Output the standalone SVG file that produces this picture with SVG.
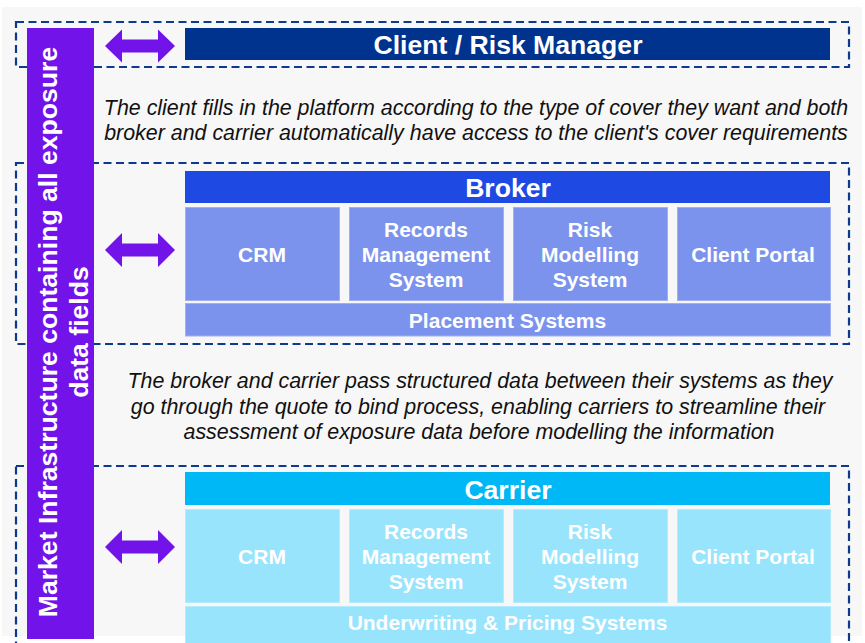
<svg xmlns="http://www.w3.org/2000/svg" width="865" height="643" viewBox="0 0 865 643">
<style>
.frame{fill:none;stroke:#0b3a8f;stroke-width:2.2;stroke-dasharray:8 4.5}
.title{font-family:"Liberation Sans",Arial,sans-serif;font-weight:bold;font-size:26.6px;fill:#fff;text-anchor:middle}
.cell{font-family:"Liberation Sans",Arial,sans-serif;font-weight:bold;font-size:21px;fill:#fff;text-anchor:middle}
.note{font-family:"Liberation Sans",Arial,sans-serif;font-style:italic;font-size:21.4px;fill:#111;text-anchor:middle}
.bcell{fill:#7b93ec;stroke:#9fb0f2;stroke-width:1}
.ccell{fill:#98e4fd;stroke:#b5ecfd;stroke-width:1}
.arrow{fill:#7213ea}
</style>
<rect x="2" y="7" width="860" height="629" fill="#f7f7f7"/>

<g id="frames">
<rect class="frame" x="16" y="22" width="833" height="45"/>
<rect class="frame" x="16" y="163" width="833" height="181"/>
<rect class="frame" x="16" y="466" width="833" height="190"/>
</g>

<g id="market-infrastructure">
<rect x="27" y="28" width="67" height="611" fill="#7213ea"/>
<text class="title" transform="translate(57,332) rotate(-90)">Market Infrastructure containing all exposure</text>
<text class="title" transform="translate(88,332) rotate(-90)">data fields</text>
</g>

<g id="client">
<rect x="185" y="28" width="645" height="32" fill="#00338d"/>
<text class="title" x="508" y="53.5">Client / Risk Manager</text>
</g>

<g id="note-client">
<text class="note" x="476" y="115">The client fills in the platform according to the type of cover they want and both</text>
<text class="note" x="476" y="140">broker and carrier automatically have access to the client's cover requirements</text>
</g>

<g id="broker">
<rect x="185" y="171" width="645" height="32" fill="#1e49e2"/>
<text class="title" x="508" y="196.5">Broker</text>
<rect class="bcell" x="185.5" y="207.5" width="154" height="93"/>
<rect class="bcell" x="349.5" y="207.5" width="154" height="93"/>
<rect class="bcell" x="513.5" y="207.5" width="154" height="93"/>
<rect class="bcell" x="677.5" y="207.5" width="153" height="93"/>
<text class="cell" x="262" y="262">CRM</text>
<text class="cell" x="426" y="237">Records</text>
<text class="cell" x="426" y="262">Management</text>
<text class="cell" x="426" y="287">System</text>
<text class="cell" x="590" y="237">Risk</text>
<text class="cell" x="590" y="262">Modelling</text>
<text class="cell" x="590" y="287">System</text>
<text class="cell" x="753" y="262">Client Portal</text>
<rect class="bcell" x="185.5" y="303.5" width="645" height="32.5"/>
<text class="cell" x="507.5" y="327.5">Placement Systems</text>
</g>

<g id="note-broker-carrier">
<text class="note" x="480" y="388">The broker and carrier pass structured data between their systems as they</text>
<text class="note" x="478" y="414">go through the quote to bind process, enabling carriers to streamline their</text>
<text class="note" x="479" y="439">assessment of exposure data before modelling the information</text>
</g>

<g id="carrier">
<rect x="185" y="472" width="645" height="33" fill="#00b8f5"/>
<text class="title" x="508" y="498.5">Carrier</text>
<rect class="ccell" x="185.5" y="509.5" width="154" height="93"/>
<rect class="ccell" x="349.5" y="509.5" width="154" height="93"/>
<rect class="ccell" x="513.5" y="509.5" width="154" height="93"/>
<rect class="ccell" x="677.5" y="509.5" width="153" height="93"/>
<text class="cell" x="262" y="564">CRM</text>
<text class="cell" x="426" y="539">Records</text>
<text class="cell" x="426" y="564">Management</text>
<text class="cell" x="426" y="589">System</text>
<text class="cell" x="590" y="539">Risk</text>
<text class="cell" x="590" y="564">Modelling</text>
<text class="cell" x="590" y="589">System</text>
<text class="cell" x="753" y="564">Client Portal</text>
<rect class="ccell" x="185.5" y="606.5" width="645" height="40"/>
<text class="cell" x="507.5" y="630">Underwriting &amp; Pricing Systems</text>
</g>

<g id="connectors">
<polygon class="arrow" points="105,46 122,29.5 122,39.5 158,39.5 158,29.5 175,46 158,62.5 158,52.5 122,52.5 122,62.5"/>
<polygon class="arrow" points="105,250 122,233 122,243.5 158,243.5 158,233 175,250 158,267 158,256.5 122,256.5 122,267"/>
<polygon class="arrow" points="105,547 122,530 122,540.5 158,540.5 158,530 175,547 158,564 158,553.5 122,553.5 122,564"/>
</g>
</svg>
